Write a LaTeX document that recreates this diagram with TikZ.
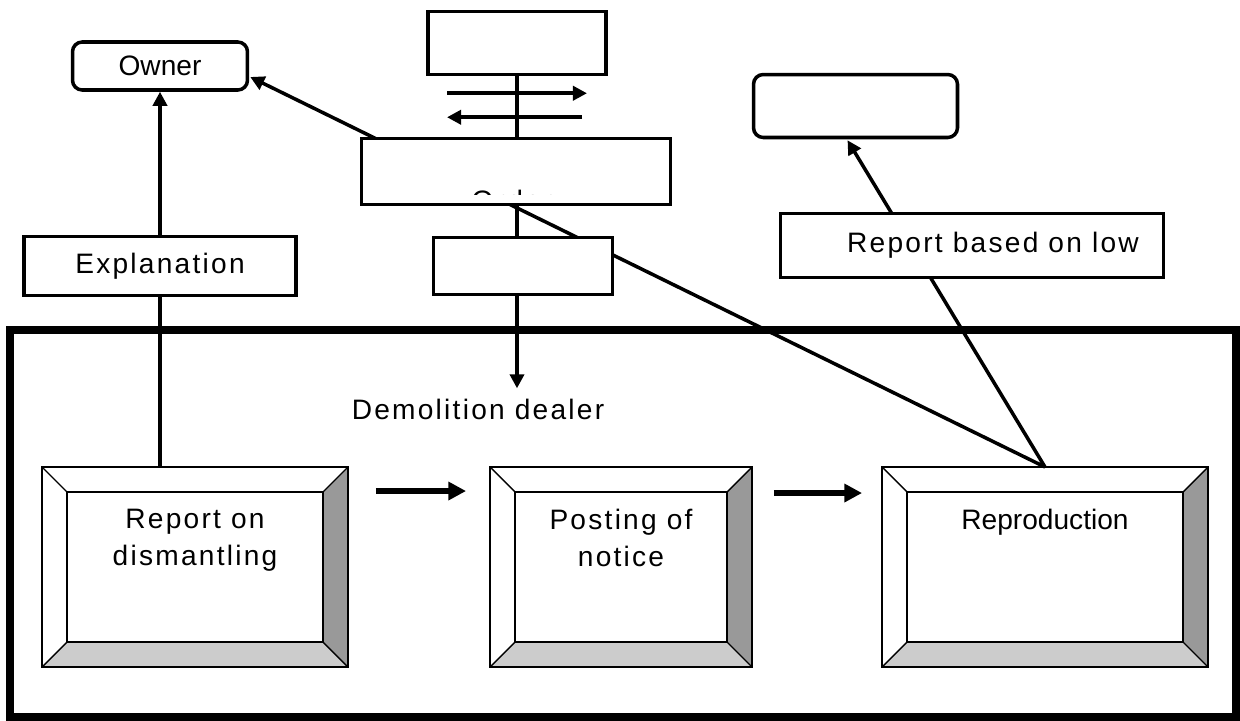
\documentclass[tikz,border=0pt]{standalone}
\usepackage{fontspec}
\setmainfont{Liberation Sans}
\newfontfamily\spaced[LetterSpace=8]{Liberation Sans}
\usetikzlibrary{arrows.meta,calc,backgrounds}

\begin{document}
\begin{tikzpicture}[x=0.02cm,y=-0.02cm,
  txt/.style={font=\fontsize{16}{21}\selectfont},
  stxt/.style={font=\fontsize{16}{21}\spaced},
  box/.style={draw,fill=white,line width=2pt,inner sep=0pt},
  rbox/.style={box,rounded corners=5.5pt},
  bevelbox/.style={inner sep=0pt,outer sep=0pt,minimum height=4cm},
  conn/.style={line width=2pt},
  arr/.style={conn,-{Triangle[length=8pt,width=8pt]}},
  bigarr/.style={line width=3.2pt,-{Triangle[length=10pt,width=10pt]}}]
  \useasboundingbox (0,0) rectangle (1240,720);

  \node[rbox,txt,minimum width=3.5cm,minimum height=0.96cm] (owner) at (160,66) {Owner};
  \node[box,minimum width=3.56cm,minimum height=1.26cm] (topbox) at (517,43) {};
  \node[box,minimum width=6.18cm,minimum height=1.32cm] (order) at (516,171.5) {};
  \node[box,minimum width=3.58cm,minimum height=1.14cm] (midbox) at (523,266) {};
  \node[box,stxt,minimum width=5.44cm,minimum height=1.18cm] (expl) at (160,266) {Explanation};
  \node[rbox,minimum width=4.08cm,minimum height=1.26cm] (rightbox) at (855.5,106) {};
  \node[box,stxt,minimum width=7.66cm,minimum height=1.28cm] (lawrep) at (972,245.5) {\hspace*{0.84cm}Report based on low};
  \node[stxt,inner sep=0pt] (dealer) at (478,409) {Demolition dealer};

  \begin{scope}
    \clip ($(order.north west)+(2,2)$) rectangle ($(order.south east)+(-2,-12)$);
    \node[stxt,inner sep=0pt,anchor=base] (ordertxt) at (512,210) {Order};
  \end{scope}

  \node[bevelbox,minimum width=6.12cm] (dismant) at (195,567) {};
  \node[bevelbox,minimum width=5.24cm] (posting) at (621,567) {};
  \node[bevelbox,minimum width=6.52cm] (repro) at (1045,567) {};
  \foreach \b in {dismant,posting,repro} {
    \fill[white!60!black] (\b.north east) -- (\b.south east) -- ($(\b.south east)+(-25,-25)$) -- ($(\b.north east)+(-25,25)$) -- cycle;
    \fill[white!80!black] (\b.south west) -- (\b.south east) -- ($(\b.south east)+(-25,-25)$) -- ($(\b.south west)+(25,-25)$) -- cycle;
    \draw[line width=1.1pt] ($(\b.north west)+(25,25)$) rectangle ($(\b.south east)+(-25,-25)$);
    \draw[line width=0.8pt] (\b.north west) -- +(25,25) (\b.north east) -- +(-25,25)
      (\b.south west) -- +(25,-25) (\b.south east) -- +(-25,-25);
    \draw[line width=1.1pt] (\b.north west) rectangle (\b.south east);
  }
  \node[stxt,anchor=north,inner sep=0pt,align=center] (dismantlbl) at (195,509) {Report on\\dismantling};
  \node[stxt,anchor=north,inner sep=0pt,align=center] (postinglbl) at (621,509) {Posting of\\notice};
  \node[txt,anchor=north,inner sep=0pt] (reprolbl) at (1045,509) {Reproduction};

  \begin{scope}[on background layer]
    \draw[line width=4.5pt] (10,330) rectangle (1236,717);
    \draw[conn] (dismant.north -| expl.south) -- (expl.south);
    \draw[arr] (expl.north) -- (owner.south);
    \draw[arr] (topbox.south) -- ($(topbox.south |- dealer.north)+(0,-10)$);
    \draw[arr] (repro.north) -- ($(owner.east)+(1,11)$);
    \draw[arr] (repro.north) -- ($(rightbox.south)+(-8,1)$);
  \end{scope}

  \draw[arr] ($(topbox.south)+(-70,17)$) -- ($(topbox.south)+(70,17)$);
  \draw[arr] ($(topbox.south)+(65,41)$) -- ($(topbox.south)+(-70,41)$);
  \draw[bigarr] ($(dismant.north east)+(28,24)$) -- ($(posting.north west)+(-24,24)$);
  \draw[bigarr] ($(posting.north east)+(22,26)$) -- ($(repro.north west)+(-20,26)$);
\end{tikzpicture}
\end{document}
